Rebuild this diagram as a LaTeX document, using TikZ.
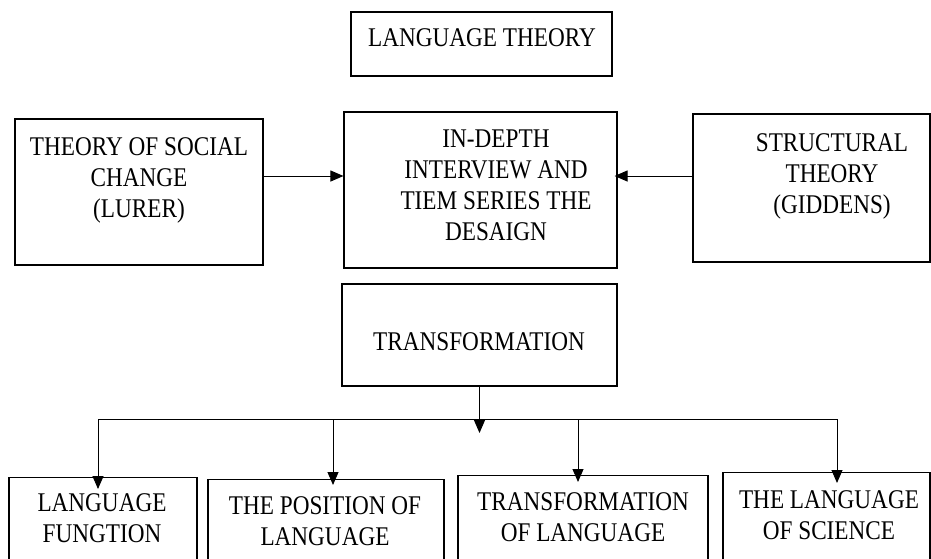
\documentclass[tikz,border=0pt]{standalone}
\usepackage{fontspec}
\setmainfont{Liberation Serif}[FakeStretch=0.86]
\usetikzlibrary{arrows.meta}
\begin{document}
\begin{tikzpicture}[x=1pt,y=-1pt,
  box/.style={draw, line width=1.1pt, inner sep=0pt},
  lbl/.style={inner sep=0pt, anchor=north, align=center,
              font=\fontsize{27}{31}\selectfont},
  arr/.style={line width=1pt, -{Triangle[length=13pt,width=11pt]}},
  wire/.style={line width=1pt}]
\useasboundingbox (0,0) rectangle (931,558);
\clip (0,0) rectangle (931,558);

% top heading
\node[box, minimum width=261pt, minimum height=64pt] (lt) at (481.5,44) {};
\node[lbl] (ltx) at (482,28) {LANGUAGE THEORY};

% middle row
\node[box, minimum width=248pt, minimum height=146pt] (soc) at (139,192) {};
\node[lbl] (socx) at (139,137) {THEORY OF SOCIAL\\CHANGE\\(LURER)};

\node[box, minimum width=273pt, minimum height=156pt] (ind) at (480.5,190) {};
\node[lbl] (indx) at (496,130) {IN-DEPTH\\INTERVIEW AND\\TIEM SERIES THE\\DESAIGN};

\node[box, minimum width=237pt, minimum height=148pt] (str) at (811.5,188) {};
\node[lbl] (strx) at (832,133) {STRUCTURAL\\THEORY\\(GIDDENS)};

\coordinate (row) at (0,176);
\draw[arr] (soc.east |- row) -- (ind.west |- row);
\draw[arr, shorten >=-3pt] (str.west |- row) -- (ind.east |- row);

% transformation
\node[box, minimum width=275pt, minimum height=102pt] (tr) at (479.5,335) {};
\node[lbl] (trx) at (479,332) {TRANSFORMATION};

\coordinate (tip) at (0,433);
\draw[arr] (tr.south) -- (tr.south |- tip);

% distribution line
\coordinate (d1) at (98,419);
\coordinate (d2) at (333,419);
\coordinate (d3) at (578,419);
\coordinate (d4) at (837,419);
\draw[wire] (d1) -- (d4);

% bottom row
\node[box, minimum width=188pt, minimum height=160pt, anchor=north] (b1) at (103,477) {};
\node[lbl] (b1x) at (102,493) {LANGUAGE\\FUNGTION};
\node[box, minimum width=236pt, minimum height=160pt, anchor=north] (b2) at (326,479) {};
\node[lbl] (b2x) at (325,496) {THE POSITION OF\\LANGUAGE};
\node[box, minimum width=250pt, minimum height=160pt, anchor=north] (b3) at (583,475) {};
\node[lbl] (b3x) at (583,492) {TRANSFORMATION\\OF LANGUAGE};
\node[box, minimum width=207pt, minimum height=160pt, anchor=north] (b4) at (826.5,472) {};
\node[lbl] (b4x) at (829,490) {THE LANGUAGE\\OF SCIENCE};

\draw[arr, shorten >=-12pt] (d1) -- (d1 |- b1.north);
\draw[arr, shorten >=-6pt] (d2) -- (d2 |- b2.north);
\draw[arr, shorten >=-7pt] (d3) -- (d3 |- b3.north);
\draw[arr, shorten >=-11pt] (d4) -- (d4 |- b4.north);
\end{tikzpicture}
\end{document}
